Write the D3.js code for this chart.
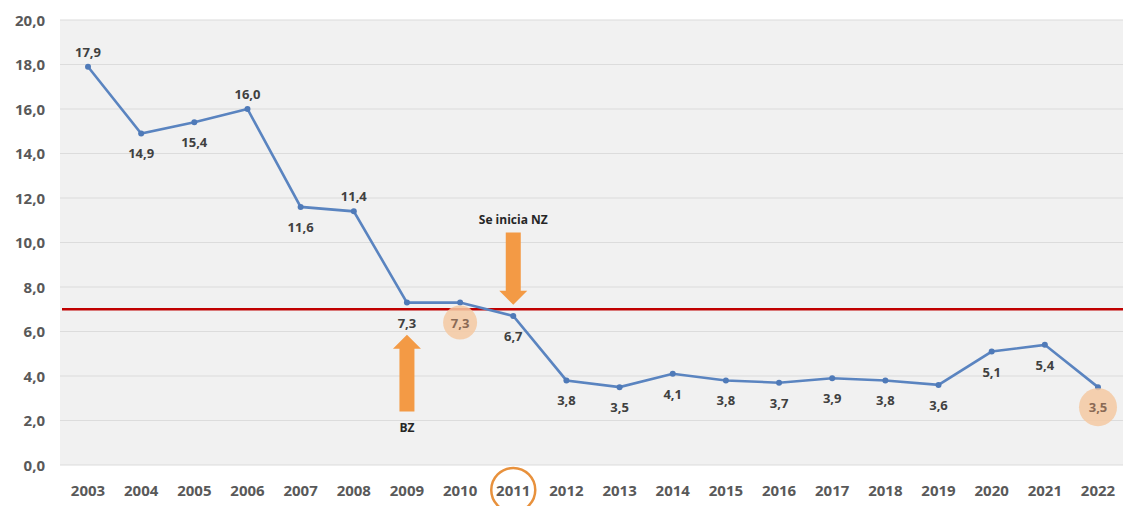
<!DOCTYPE html>
<html>
<head>
<meta charset="utf-8">
<script src="https://cdn.jsdelivr.net/npm/d3@7"></script>
<style>
  body { margin: 0; background: #fff; }
  text { font-family: "Open Sans", "Liberation Sans", sans-serif; }
</style>
</head>
<body>
<div id="chart"></div>
<script>
// data
let years = ["2003", "2004", "2005", "2006", "2007", "2008", "2009", "2010", "2011", "2012",
             "2013", "2014", "2015", "2016", "2017", "2018", "2019", "2020", "2021", "2022"];
let values = [17.9, 14.9, 15.4, 16.0, 11.6, 11.4, 7.3, 7.3, 6.7, 3.8,
              3.5, 4.1, 3.8, 3.7, 3.9, 3.8, 3.6, 5.1, 5.4, 3.5];
// where each value label sits: 1 = above the point, -1 = below
let labelSide = [1, -1, -1, 1, -1, 1, -1, -1, -1, -1,
                 -1, -1, -1, -1, -1, -1, -1, -1, -1, -1];
let yTicks = [0, 2, 4, 6, 8, 10, 12, 14, 16, 18, 20];
let thresholdValue = 7.0;
let highlightedLabels = ["2010", "2022"];
let circledYear = "2011";
let notes = [
    { year: "2011", text: "Se inicia NZ", dir: "down", start: 10.45, tip: 7.2 },
    { year: "2009", text: "BZ", dir: "up", start: 2.4, tip: 5.85 }
];

let width = 1123, height = 506;
let plotLeft = 60, plotRight = 1123, plotTop = 20, plotBottom = 465;

let locale = d3.formatLocale({ decimal: ",", thousands: ".", grouping: [3], currency: ["", ""] });
let fmt = locale.format(".1f");

let svg = d3.select("#chart").append("svg")
    .attr("width", width)
    .attr("height", height);

let x = d3.scalePoint().domain(years).range([88, 1098]);
let y = d3.scaleLinear().domain([0, 20]).range([plotBottom, plotTop]);

// plot background
svg.append("rect")
    .attr("x", plotLeft).attr("y", plotTop)
    .attr("width", plotRight - plotLeft).attr("height", plotBottom - plotTop)
    .attr("fill", "#f1f1f1");

// gridlines
svg.append("g").selectAll("line")
    .data(yTicks)
    .enter().append("line")
    .attr("x1", plotLeft).attr("x2", plotRight)
    .attr("y1", d => y(d)).attr("y2", d => y(d))
    .attr("stroke", "#dcdcdc")
    .attr("stroke-width", 1.2);

// y axis labels
svg.append("g").selectAll("text")
    .data(yTicks)
    .enter().append("text")
    .attr("x", 45)
    .attr("y", d => y(d) + 5.5)
    .attr("text-anchor", "end")
    .attr("font-size", 15)
    .attr("font-weight", "bold")
    .attr("fill", "#595959")
    .text(d => fmt(d));

// x axis labels
svg.append("g").selectAll("text")
    .data(years)
    .enter().append("text")
    .attr("x", d => x(d))
    .attr("y", 496)
    .attr("text-anchor", "middle")
    .attr("font-size", 15)
    .attr("font-weight", "bold")
    .attr("fill", "#595959")
    .text(d => d);

// ring around the start year
svg.append("circle")
    .attr("cx", x(circledYear))
    .attr("cy", 490)
    .attr("r", 22)
    .attr("fill", "none")
    .attr("stroke", "#e8913c")
    .attr("stroke-width", 2.5);

// threshold line
svg.append("line")
    .attr("x1", 62).attr("x2", plotRight)
    .attr("y1", y(thresholdValue)).attr("y2", y(thresholdValue))
    .attr("stroke", "#c00000")
    .attr("stroke-width", 2.5);

// series line
let line = d3.line()
    .x((d, i) => x(years[i]))
    .y(d => y(d));

svg.append("path")
    .datum(values)
    .attr("d", line)
    .attr("fill", "none")
    .attr("stroke", "#5a84c0")
    .attr("stroke-width", 2.6);

svg.append("g").selectAll("circle")
    .data(values)
    .enter().append("circle")
    .attr("cx", (d, i) => x(years[i]))
    .attr("cy", d => y(d))
    .attr("r", 3)
    .attr("fill", "#4f7ab8");

// soft highlight behind some labels
svg.append("g").selectAll("circle")
    .data(highlightedLabels)
    .enter().append("circle")
    .attr("cx", d => x(d))
    .attr("cy", d => y(values[years.indexOf(d)]) + 20)
    .attr("r", d => d === "2022" ? 19 : 17)
    .attr("fill", "#f5c9a2")
    .attr("opacity", 0.85);

// value labels
svg.append("g").selectAll("text")
    .data(values)
    .enter().append("text")
    .attr("x", (d, i) => x(years[i]))
    .attr("y", (d, i) => y(d) + (labelSide[i] > 0 ? -10 : 25))
    .attr("text-anchor", "middle")
    .attr("font-size", 13)
    .attr("font-weight", "bold")
    .attr("fill", (d, i) => highlightedLabels.includes(years[i]) ? "#8a6a55" : "#404040")
    .text(d => fmt(d));

// orange arrows with notes
let arrowColor = "#f39a45";
notes.forEach(function(n) {
    let cx = x(n.year);
    let yStart = y(n.start), yTip = y(n.tip);
    let shaft = 7.5, head = 14, headLen = 14;
    let dir = yTip > yStart ? 1 : -1;
    let yNeck = yTip - dir * headLen;
    let pts = [[cx - shaft, yStart], [cx + shaft, yStart], [cx + shaft, yNeck], [cx + head, yNeck],
               [cx, yTip], [cx - head, yNeck], [cx - shaft, yNeck]];
    svg.append("polygon")
        .attr("points", pts.map(p => p.join(",")).join(" "))
        .attr("fill", arrowColor);
    svg.append("text")
        .attr("x", cx)
        .attr("y", n.dir === "down" ? yStart - 8 : yStart + 20)
        .attr("text-anchor", "middle")
        .attr("font-size", 12)
        .attr("font-weight", "bold")
        .attr("fill", "#262626")
        .text(n.text);
});
</script>
</body>
</html>
